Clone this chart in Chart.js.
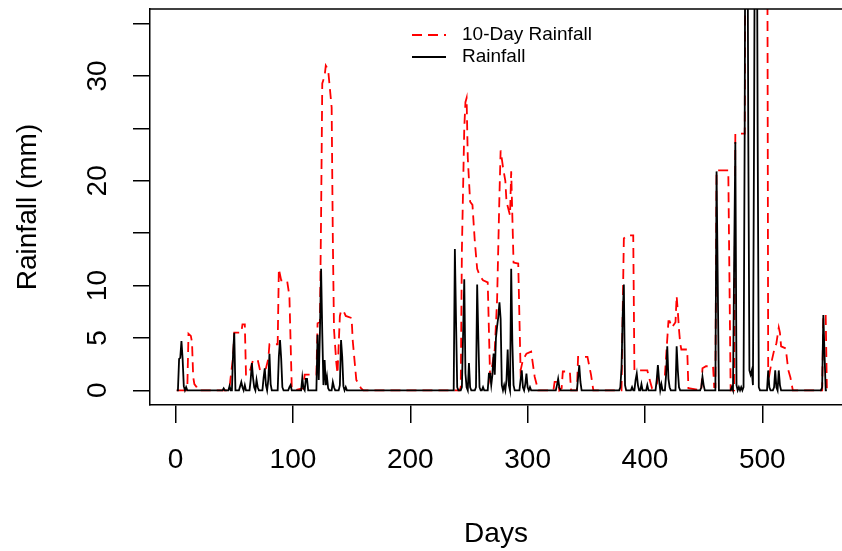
<!DOCTYPE html>
<html>
<head>
<meta charset="utf-8">
<script src="https://cdn.jsdelivr.net/npm/chart.js@4.4.1/dist/chart.umd.min.js"></script>
<style>
  html, body { margin: 0; padding: 0; background: #fff; }
  #grafica { display: block; }
</style>
</head>
<body>
<canvas id="grafica" width="842" height="551"></canvas>
<script>
// Lluvia diaria (mm), solo los días con lluvia: [día, mm]
const lluviaDiaria = [
  [3, 3.0], [4, 3.1], [5, 4.7], [6, 3.0], [7, 0.4], [9, 0.3],
  [41, 0.2], [46, 0.4], [49, 3.5], [50, 5.5],
  [55, 0.4], [56, 0.8], [57, 0.3], [59, 0.5],
  [64, 1.0], [65, 2.6], [66, 1.2], [67, 0.3], [69, 1.0], [70, 0.3],
  [75, 1.2], [76, 2.1], [77, 0.5], [79, 1.0], [80, 3.5], [81, 0.6],
  [88, 3.2], [89, 4.8], [90, 3.0], [91, 0.3], [97, 0.3], [98, 0.5],
  [108, 1.2], [109, 0.2], [111, 1.1], [112, 1.1],
  [121, 5.3], [122, 1.0], [123, 5.5], [124, 11.6], [125, 5.5], [126, 0.5],
  [127, 2.9], [128, 0.5], [129, 1.3], [130, 0.2],
  [134, 0.8], [135, 0.3], [140, 0.5], [141, 4.8], [142, 3.2], [143, 0.4], [145, 0.3],
  [238, 13.5], [239, 6.6], [240, 0.3],
  [244, 0.3], [245, 5.3], [246, 10.6], [247, 1.6], [248, 0.3], [250, 2.6], [251, 0.3],
  [256, 0.3], [257, 10.1], [258, 5.0], [259, 0.3], [262, 0.3],
  [267, 1.6], [268, 1.6], [269, 0.5], [270, 1.5], [271, 3.5], [272, 1.5],
  [273, 5.0], [274, 6.1], [275, 7.0], [276, 8.4], [277, 6.8], [278, 0.5],
  [280, 0.5], [282, 1.0], [283, 3.9], [284, 0.5], [286, 11.6], [287, 4.5], [288, 0.5],
  [294, 1.0], [295, 1.9], [296, 0.3], [298, 0.6], [299, 1.6], [300, 0.3], [302, 0.3],
  [325, 0.5], [326, 1.1], [327, 0.3],
  [343, 1.2], [344, 2.4], [345, 0.8],
  [379, 0.3], [380, 2.1], [381, 7.1], [382, 10.1], [383, 0.5],
  [389, 0.3], [392, 1.0], [393, 1.6], [394, 0.5], [397, 0.6], [402, 0.5],
  [410, 1.0], [411, 2.4], [412, 1.0], [414, 0.6],
  [418, 1.5], [419, 4.2], [420, 1.1], [421, 0.3],
  [427, 4.2], [428, 1.9], [429, 0.3],
  [448, 0.3], [449, 1.3], [450, 0.5],
  [461, 20.9], [462, 10.5],
  [474, 0.3], [476, 12.2], [477, 23.7], [478, 0.5],
  [480, 0.3], [482, 0.3], [484, 0.3],
  [485, 25.3], [486, 70], [487, 60], [488, 25.3], [489, 1.9], [490, 1.5], [491, 1.9], [492, 0.5],
  [493, 25.3], [494, 60], [495, 60], [496, 25.3], [497, 0.3],
  [505, 1.9], [506, 0.3], [510, 0.3], [511, 1.9], [512, 0.3], [514, 1.9], [515, 0.5],
  [551, 0.3], [552, 7.2], [553, 3.5]
];

// Lluvia de 10 días (mm), puntos de quiebre: [día, mm]
const lluvia10Dias = [
  [1, 0], [9, 0], [10, 0.2], [11, 5.4], [13, 5.2], [14, 4.6], [15, 1.3], [16, 0.6], [18, 0.3], [19, 0],
  [44, 0], [46, 0.3], [47, 1.3], [49, 3.2], [50, 5.5], [56, 5.5], [57, 6.3], [59, 6.3],
  [60, 1.5], [62, 1.5], [64, 2.1], [66, 2.9], [70, 2.9], [72, 1.9], [75, 1.9], [77, 2.1],
  [79, 3.0], [80, 4.4], [87, 4.4], [88, 11.6], [90, 10.5], [95, 10.5], [97, 9.0], [99, 0.3], [101, 0],
  [109, 0.2], [110, 1.5], [120, 1.5], [121, 6.4], [123, 6.5], [124, 16.7], [125, 29.3],
  [127, 30.0], [128, 31.0], [130, 30.6], [133, 27.0], [134, 14.5], [135, 5.8], [137, 2.6],
  [138, 1.6], [140, 7.1], [141, 7.6], [143, 7.6], [145, 7.1], [150, 6.9], [151, 4.7],
  [154, 1.0], [158, 0.2], [160, 0],
  [242, 0], [243, 0.3], [244, 13.5], [246, 25.0], [247, 27.5], [248, 27.9], [249, 22.2], [251, 18.0],
  [253, 17.7], [255, 14.2], [257, 11.6], [259, 11.0], [262, 10.5], [266, 10.3], [268, 1.3],
  [270, 2.5], [272, 3.9], [274, 8.7], [276, 18.7], [277, 22.9], [279, 21.3], [281, 20.0],
  [282, 18.0], [285, 16.7], [286, 20.9], [288, 12.2], [292, 12.1], [294, 1.9], [296, 2.9],
  [299, 3.5], [303, 3.7], [306, 1.3], [309, 0],
  [322, 0], [323, 0.8], [326, 0.8], [327, 0], [329, 0.2], [330, 1.8], [336, 1.8], [337, 0],
  [342, 0], [343, 3.2], [351, 3.2], [354, 1.5], [356, 0],
  [380, 0], [381, 7.4], [382, 14.5], [385, 14.8], [390, 14.8], [391, 1.9], [402, 1.9],
  [404, 1.0], [406, 0.2], [410, 0.5], [411, 1.5], [417, 1.5], [418, 3.2], [420, 6.6],
  [421, 6.6], [423, 6.0], [426, 6.5], [427, 9.0], [428, 7.5], [429, 5.8], [430, 4.5],
  [431, 3.9], [436, 3.9], [437, 0.2],
  [448, 0], [449, 2.1], [452, 2.3], [458, 2.3], [459, 0.3], [460, 0.3], [461, 21.0],
  [471, 21.0], [472, 10.5], [473, 0], [476, 0], [477, 24.5], [485, 24.5], [486, 60],
  [504, 60], [505, 1.9], [506, 1.5], [508, 2.8], [510, 3.8], [512, 4.5], [514, 6.0],
  [515, 5.5], [516, 4.2], [520, 4.0], [522, 2.0], [524, 1.2], [526, 0],
  [551, 0], [552, 7.2], [554, 7.2], [555, 0.2]
];

const nDias = 555;
const ticksX = [0, 100, 200, 300, 400, 500];
const ticksY = [0, 5, 10, 15, 20, 25, 30, 35];
const etiquetasY = [0, 5, 10, 20, 30];

// Serie diaria completa (los días sin lluvia valen 0)
const serieDiaria = [];
for (let d = 1; d <= nDias; d++) serieDiaria.push({ x: d, y: 0 });
lluviaDiaria.forEach(([d, mm]) => { serieDiaria[d - 1].y = mm; });

const serie10Dias = lluvia10Dias.map(([d, mm]) => ({ x: d, y: mm }));

const fuente = "'Liberation Sans', Arial, sans-serif";

// Línea superior del marco
const marco = {
  id: 'marco',
  afterDraw(chart) {
    const { ctx, chartArea } = chart;
    ctx.save();
    ctx.strokeStyle = '#000';
    ctx.lineWidth = 1.5;
    ctx.beginPath();
    ctx.moveTo(chartArea.left, chartArea.top);
    ctx.lineTo(chartArea.right, chartArea.top);
    ctx.stroke();
    ctx.restore();
  }
};

// Leyenda sin caja, como en R
const leyenda = {
  id: 'leyenda',
  afterDraw(chart) {
    const ctx = chart.ctx;
    ctx.save();
    ctx.font = '19px ' + fuente;
    ctx.textBaseline = 'middle';
    ctx.fillStyle = '#000';
    chart.data.datasets.forEach((ds, i) => {
      const y = 35 + i * 22;
      ctx.strokeStyle = ds.borderColor;
      ctx.lineWidth = ds.borderWidth;
      ctx.setLineDash(ds.borderDash || []);
      ctx.beginPath();
      ctx.moveTo(412, y);
      ctx.lineTo(446, y);
      ctx.stroke();
      ctx.setLineDash([]);
      ctx.fillText(ds.label, 462, y);
    });
    ctx.restore();
  }
};

const ctx = document.getElementById('grafica').getContext('2d');
new Chart(ctx, {
  type: 'line',
  data: {
    datasets: [{
      label: '10-Day Rainfall',
      data: serie10Dias,
      borderColor: '#ff0000',
      borderWidth: 1.8,
      borderDash: [10, 6],
      pointRadius: 0,
      tension: 0,
      order: 1
    }, {
      label: 'Rainfall',
      data: serieDiaria,
      borderColor: '#000000',
      borderWidth: 1.8,
      pointRadius: 0,
      tension: 0,
      order: 0
    }]
  },
  options: {
    responsive: false,
    animation: false,
    devicePixelRatio: 1,
    layout: { padding: { top: 9, left: 0, right: 0, bottom: 0 } },
    plugins: {
      legend: { display: false },
      tooltip: { enabled: false }
    },
    scales: {
      x: {
        type: 'linear',
        min: -21.8,
        max: 567.9,
        afterBuildTicks: s => { s.ticks = ticksX.map(v => ({ value: v })); },
        afterFit: s => { s.height = 146; s.paddingLeft = 0; s.paddingRight = 0; },
        grid: { drawOnChartArea: false, tickLength: 18, color: '#000', lineWidth: 1.5 },
        border: { display: true, color: '#000', width: 1.5 },
        ticks: {
          color: '#000',
          font: { family: fuente, size: 28 },
          padding: 20,
          maxRotation: 0,
          autoSkip: false
        },
        title: {
          display: true,
          text: 'Days',
          color: '#000',
          font: { family: fuente, size: 28 },
          padding: { top: 0, bottom: 0 }
        }
      },
      y: {
        min: -1.4,
        max: 36.4,
        afterBuildTicks: s => { s.ticks = ticksY.map(v => ({ value: v })); },
        afterFit: s => { s.width = 150; s.paddingTop = 0; s.paddingBottom = 0; },
        grid: { drawOnChartArea: false, tickLength: 17, color: '#000', lineWidth: 1.5 },
        border: { display: true, color: '#000', width: 1.5 },
        ticks: {
          color: '#000',
          font: { family: fuente, size: 28 },
          padding: 19,
          minRotation: 90,
          maxRotation: 90,
          crossAlign: 'center',
          autoSkip: false,
          callback: v => etiquetasY.includes(v) ? String(v) : ''
        },
        title: {
          display: true,
          text: 'Rainfall (mm)',
          color: '#000',
          font: { family: fuente, size: 28 },
          padding: { top: 11, bottom: 0 }
        }
      }
    }
  },
  plugins: [marco, leyenda]
});
</script>
</body>
</html>
